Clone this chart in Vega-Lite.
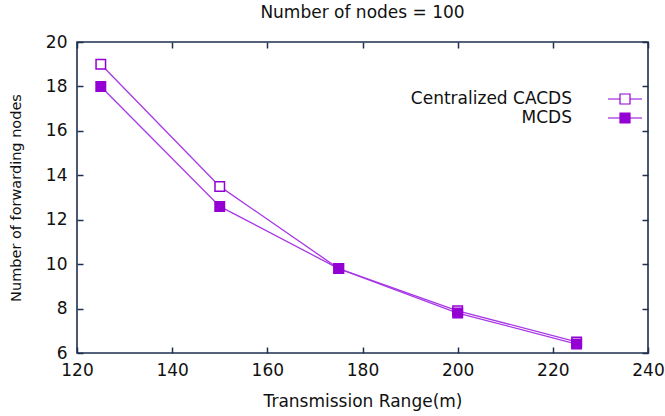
{
  "$schema": "https://vega.github.io/schema/vega-lite/v6.json",
  "width": 571,
  "height": 311,
  "autosize": {"type": "none"},
  "padding": {"left": 77, "top": 42, "right": 17, "bottom": 63},
  "background": "white",
  "view": {"stroke": "#1f2f4f", "strokeWidth": 1.6},
  "title": {"text": "Number of nodes = 100", "font": "DejaVu Sans", "fontSize": 17, "fontWeight": "normal", "color": "#111", "offset": 11, "anchor": "middle"},
  "data": {"values": [
    {"series": "Centralized CACDS", "range": 125, "nodes": 19},
    {"series": "Centralized CACDS", "range": 150, "nodes": 13.5},
    {"series": "Centralized CACDS", "range": 175, "nodes": 9.8},
    {"series": "Centralized CACDS", "range": 200, "nodes": 7.9},
    {"series": "Centralized CACDS", "range": 225, "nodes": 6.5},
    {"series": "MCDS", "range": 125, "nodes": 18},
    {"series": "MCDS", "range": 150, "nodes": 12.6},
    {"series": "MCDS", "range": 175, "nodes": 9.8},
    {"series": "MCDS", "range": 200, "nodes": 7.8},
    {"series": "MCDS", "range": 225, "nodes": 6.4}
  ]},
  "config": {
    "axis": {"domain": false, "grid": false, "offset": -6, "tickColor": "#1f2f4f", "tickSize": 6, "tickWidth": 1.5, "labelFlush": false, "labelFont": "DejaVu Sans", "labelFontSize": 17, "labelColor": "#111", "titleFont": "DejaVu Sans", "titleFontSize": 17, "titleFontWeight": "normal", "titleColor": "#111"}
  },
  "layer": [
    {
      "mark": {"type": "line", "color": "#a838e6", "strokeWidth": 1.3},
      "encoding": {
        "x": {"field": "range", "type": "quantitative", "scale": {"domain": [120, 240], "nice": false}, "axis": {"orient": "bottom", "values": [120, 140, 160, 180, 200, 220, 240], "title": "Transmission Range(m)", "labelPadding": 9, "titlePadding": 15}},
        "y": {"field": "nodes", "type": "quantitative", "scale": {"domain": [6, 20], "nice": false, "zero": false}, "axis": {"orient": "left", "values": [6, 8, 10, 12, 14, 16, 18, 20], "title": "Number of forwarding nodes", "titleFontSize": 14.5, "labelPadding": 10, "titlePadding": 22}},
        "detail": {"field": "series"}
      }
    },
    {
      "mark": {"type": "point", "shape": "square", "size": 90, "filled": true, "stroke": "#9400D3", "strokeWidth": 1.5, "opacity": 1},
      "encoding": {
        "x": {"field": "range", "type": "quantitative", "axis": {"orient": "top", "values": [120, 140, 160, 180, 200, 220, 240], "labels": false, "title": null}},
        "y": {"field": "nodes", "type": "quantitative", "axis": {"orient": "right", "values": [6, 8, 10, 12, 14, 16, 18, 20], "labels": false, "title": null}},
        "fill": {"field": "series", "type": "nominal", "scale": {"domain": ["Centralized CACDS", "MCDS"], "range": ["white", "#9400D3"]},
          "legend": {"orient": "none", "legendX": 537, "legendY": 46, "title": null, "padding": 0, "rowPadding": -1, "symbolType": "M-1.7,0H-0.5M0.5,0H1.7M-0.5,-0.5H0.5V0.5H-0.5Z", "symbolSize": 400, "symbolStrokeColor": "#9400D3", "symbolStrokeWidth": 1.2, "labelAlign": "right", "labelOffset": -64, "labelFont": "DejaVu Sans", "labelFontSize": 17, "labelColor": "#111", "labelLimit": 300}}
      }
    }
  ],
  "resolve": {"axis": {"x": "independent", "y": "independent"}}
}
